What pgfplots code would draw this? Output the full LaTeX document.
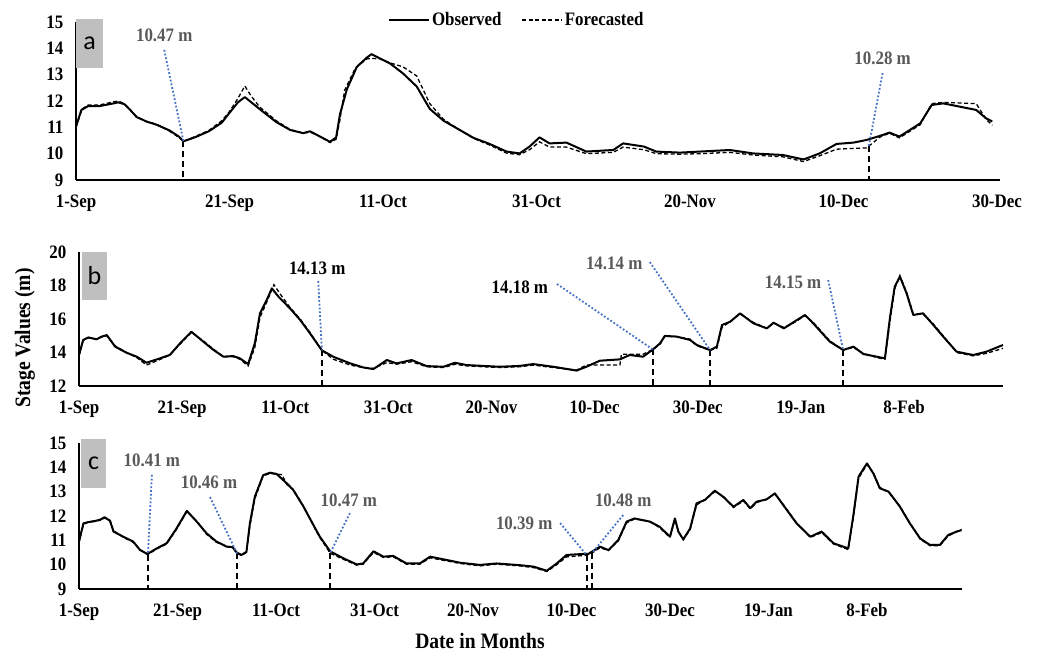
\documentclass[border=0pt]{standalone}
\usepackage{fontspec}
\setmainfont{Liberation Serif}[FakeStretch=0.89]
\newfontfamily\letterfont{Carlito}
\usepackage{pgfplots}
\pgfplotsset{compat=1.18}
\definecolor{dotblue}{RGB}{68,114,196}
\definecolor{annogray}{RGB}{89,89,89}
\definecolor{boxgray}{RGB}{191,191,191}

\pgfplotsset{
  panel/.style={scale only axis, anchor=south west,
    axis x line=bottom, axis y line=left,
    axis line style={-, line width=1.3pt},
    tick style={draw=none},
    ticklabel style={font=\fontsize{19}{19}\selectfont\bfseries},
    /pgf/number format/assume math mode=true,
    yticklabel style={xshift=-7pt},
    xticklabel style={yshift=-9pt},
    xmin=0, clip=false},
  obs/.style={black, line width=2pt, line join=round},
  fc/.style={black, line width=1.3pt, dash pattern=on 4pt off 2.5pt},
}
\tikzset{
  vdash/.style={black, line width=2pt, dash pattern=on 6pt off 4pt},
  bdot/.style={dotblue, line width=1.8pt, dash pattern=on 1.8pt off 2pt},
  anno/.style={font=\fontsize{19}{19}\selectfont\bfseries, text=annogray, inner sep=0pt},
  annok/.style={anno, text=black},
  letter/.style={fill=boxgray, inner sep=0pt, font=\letterfont\fontsize{26}{26}\selectfont},
}

\begin{document}
\begin{tikzpicture}
\path[use as bounding box] (0,0) rectangle (1045pt,-654pt);

% ---- panel a
\begin{axis}[panel, at={(76pt,-180pt)}, width=924pt, height=158pt,
  xmax=120.4, ymin=9, ymax=15, ytick={9,...,15},
  xtick={0,20,...,120},
  xticklabels={1-Sep,21-Sep,11-Oct,31-Oct,20-Nov,10-Dec,30-Dec},
  legend style={at={(0.477,1.013)}, anchor=center, legend columns=2,
    draw=none, fill=none, inner sep=0pt,
    font=\fontsize{19}{19}\selectfont\bfseries,
    /tikz/every even column/.append style={column sep=18pt}},
  legend image code/.code={\draw[#1] (0pt,0pt) -- (40pt,0pt);}]
\addplot[obs] coordinates {
(0,11.03) (0.7,11.66) (1.6,11.81) (3.1,11.81) (4.9,11.91) (5.5,11.95) (6.3,11.88)
(7.0,11.68) (7.9,11.39) (9.2,11.22) (10.5,11.10) (12.2,10.88) (13.4,10.65) (14.0,10.47)
(15.5,10.62) (17.3,10.85) (19.0,11.18) (20.0,11.55) (21.1,11.95) (22.0,12.15) (23.9,11.70)
(26.1,11.20) (27.9,10.90) (29.6,10.78) (30.5,10.85) (31.8,10.65) (33.1,10.45) (33.9,10.62)
(34.4,11.50) (35.3,12.45) (36.6,13.30) (37.9,13.65) (38.5,13.78) (39.6,13.62) (40.9,13.43)
(42.6,13.05) (44.4,12.55) (46.1,11.70) (47.9,11.25) (50.0,10.90) (51.8,10.60) (53.9,10.37)
(56.1,10.08) (57.8,10.01) (59.1,10.27) (60.4,10.62) (61.7,10.39) (63.9,10.42) (66.5,10.08)
(70.0,10.14) (71.3,10.39) (74.0,10.27) (75.6,10.08) (78.7,10.04) (81.3,10.08) (85.2,10.14)
(88.2,10.01) (92.1,9.95) (94.8,9.78) (96.9,10.01) (99.1,10.37) (101.3,10.42) (103.0,10.52)
(104.7,10.67) (106.0,10.80) (107.3,10.65) (110.0,11.15) (111.5,11.85) (113.0,11.91)
(115.6,11.76) (117.3,11.66) (118.6,11.34) (119.4,11.22)
};
\addplot[fc] coordinates {
(0,11.00) (0.8,11.70) (1.6,11.85) (3.1,11.85) (4.9,11.97) (5.5,12.00) (6.3,11.90)
(7.0,11.70) (7.9,11.40) (9.2,11.22) (10.5,11.12) (12.2,10.85) (13.4,10.62) (14.0,10.47)
(15.5,10.65) (17.3,10.88) (19.0,11.25) (20.0,11.60) (21.1,12.10) (22.0,12.57) (22.8,12.20)
(23.9,11.78) (26.1,11.25) (27.9,10.92) (29.6,10.78) (30.5,10.82) (31.8,10.65) (33.1,10.42)
(33.9,10.55) (34.4,11.30) (35.0,12.40) (36.4,13.25) (37.9,13.60) (38.5,13.62) (39.6,13.60)
(40.9,13.45) (42.6,13.30) (44.4,12.95) (46.1,11.90) (47.9,11.30) (50.0,10.90) (51.8,10.58)
(53.9,10.33) (56.1,10.02) (57.8,9.96) (59.1,10.15) (60.4,10.45) (61.7,10.25) (63.9,10.25)
(66.5,10.00) (70.0,10.05) (71.3,10.25) (74.0,10.15) (75.6,10.00) (78.7,9.98) (81.3,10.00)
(85.2,10.05) (88.2,9.95) (92.1,9.88) (94.8,9.70) (96.9,9.92) (99.1,10.17) (101.3,10.20)
(103.0,10.22) (103.3,10.28) (104.7,10.62) (106.0,10.78) (107.3,10.60) (110.0,11.10)
(111.5,11.90) (113.0,11.95) (115.6,11.92) (117.3,11.90) (118.6,11.30) (119.4,11.08)
};
\legend{Observed, Forecasted}
\draw[vdash] (14,10.47) -- (14,9);
\draw[bdot] (11.5,13.94) -- (14,10.47);
\node[anno] at (11.5,14.51) {10.47 m};
\draw[vdash] (103.3,10.28) -- (103.3,9);
\draw[bdot] (105.1,13.06) -- (103.3,10.28);
\node[anno] at (105.1,13.63) {10.28 m};
\end{axis}

% ---- panel b
\begin{axis}[panel, at={(79pt,-386pt)}, width=924pt, height=134pt,
  xmax=179.2, ymin=12, ymax=20, ytick={12,14,...,20},
  xtick={0,20,...,160},
  xticklabels={1-Sep,21-Sep,11-Oct,31-Oct,20-Nov,10-Dec,30-Dec,19-Jan,8-Feb}]
\addplot[obs] coordinates {
(0,13.85) (0.8,14.75) (1.8,14.90) (3.4,14.79) (4.4,14.95) (5.4,15.04) (7.0,14.35)
(9.2,13.99) (11.2,13.75) (13.1,13.39) (15.1,13.59) (17.6,13.85) (19.6,14.55) (21.8,15.24)
(24.1,14.65) (26.1,14.15) (28.0,13.75) (29.9,13.79) (31.2,13.65) (32.8,13.31) (34.1,14.55)
(35.1,16.34) (36.4,17.13) (37.4,17.83) (38.7,17.33) (40.9,16.64) (42.9,15.94) (44.8,15.14)
(47.1,14.13) (49.3,13.75) (52.6,13.35) (55.1,13.11) (57.1,13.01) (59.7,13.55) (61.6,13.35)
(64.5,13.55) (67.4,13.19) (70.7,13.15) (72.9,13.39) (75.2,13.25) (81.6,13.15) (85.5,13.20)
(88.1,13.31) (92.0,13.15) (96.5,12.92) (98.4,13.15) (101.0,13.51) (104.9,13.59) (106.8,13.85)
(109.4,13.75) (111.3,14.18) (112.7,14.55) (113.6,14.99) (115.9,14.95) (118.5,14.75)
(119.8,14.45) (122.4,14.14) (123.7,14.35) (124.7,15.64) (126.3,15.84) (128.2,16.34)
(130.8,15.74) (133.4,15.44) (134.7,15.78) (136.7,15.44) (138.0,15.70) (140.8,16.24)
(142.4,15.74) (145.6,14.65) (148.2,14.15) (150.2,14.35) (152.1,13.91) (154.7,13.75)
(156.3,13.65) (157.3,16.14) (158.2,17.93) (159.2,18.53) (160.5,17.53) (161.8,16.24)
(163.7,16.34) (165.7,15.64) (167.6,14.95) (170.2,14.05) (173.4,13.85) (176.0,14.05) (179.2,14.45)
};
\addplot[fc] coordinates {
(0,13.80) (0.8,14.70) (1.8,14.88) (3.4,14.80) (4.4,14.92) (5.4,15.00) (7.0,14.40)
(9.2,14.00) (11.2,13.70) (13.1,13.25) (15.1,13.50) (17.6,13.85) (19.6,14.50) (21.8,15.20)
(24.1,14.70) (26.1,14.20) (28.0,13.75) (29.9,13.75) (31.2,13.60) (32.8,13.20) (34.1,14.30)
(35.1,16.10) (36.4,17.00) (37.8,18.05) (39.0,17.50) (40.9,16.70) (42.9,16.00) (44.8,15.20)
(47.1,14.13) (49.3,13.60) (52.6,13.25) (55.1,13.10) (57.1,13.05) (59.7,13.40) (61.6,13.30)
(64.5,13.45) (67.4,13.15) (70.7,13.10) (72.9,13.30) (75.2,13.20) (81.6,13.10) (85.5,13.15)
(88.1,13.25) (92.0,13.10) (96.5,12.95) (98.4,13.25) (101.0,13.25) (104.9,13.25) (105.2,13.90)
(109.4,13.90) (111.3,14.18) (112.7,14.50) (113.6,14.95) (115.9,14.95) (118.5,14.80)
(119.8,14.40) (122.4,14.14) (123.7,14.25) (124.7,15.50) (126.3,15.85) (128.2,16.30)
(130.8,15.80) (133.4,15.45) (134.7,15.75) (136.7,15.50) (138.0,15.65) (140.8,16.20)
(142.4,15.80) (145.6,14.70) (148.2,14.15) (150.2,14.30) (152.1,13.95) (154.7,13.70)
(156.3,13.60) (157.3,15.90) (158.2,17.80) (159.2,18.60) (160.5,17.60) (161.8,16.30)
(163.7,16.30) (165.7,15.70) (167.6,15.00) (170.2,14.00) (173.4,13.80) (176.0,13.95) (179.2,14.25)
};
\draw[vdash] (47.1,14.13) -- (47.1,12);
\draw[bdot] (46.4,18.27) -- (47.1,14.13);
\node[annok] at (46.2,19.04) {14.13 m};
\draw[vdash] (111.3,14.18) -- (111.3,12);
\draw[bdot] (92.7,18.09) -- (111.3,14.18);
\node[annok] at (85.5,17.91) {14.18 m};
\draw[vdash] (122.4,14.14) -- (122.4,12);
\draw[bdot] (110.7,19.40) -- (122.4,14.14);
\node[anno] at (103.8,19.34) {14.14 m};
\draw[vdash] (148.2,14.15) -- (148.2,12);
\draw[bdot] (145.3,18.33) -- (148.2,14.15);
\node[anno] at (138.5,18.21) {14.15 m};
\end{axis}

% ---- panel c
\begin{axis}[panel, at={(79pt,-589pt)}, width=883pt, height=146pt,
  xmax=179.3, ymin=9, ymax=15, ytick={9,...,15},
  xtick={0,20,...,160},
  xticklabels={1-Sep,21-Sep,11-Oct,31-Oct,20-Nov,10-Dec,30-Dec,19-Jan,8-Feb}]
\addplot[obs] coordinates {
(0,10.95) (0.9,11.70) (1.9,11.75) (3.0,11.78) (4.3,11.85) (5.2,11.95) (6.3,11.80)
(7.0,11.36) (9.0,11.15) (11.0,10.95) (12.4,10.60) (13.9,10.44) (15.8,10.67) (17.8,10.88)
(19.8,11.49) (21.9,12.21) (23.9,11.77) (25.9,11.29) (27.9,10.95) (30.0,10.74) (31.2,10.72)
(32.0,10.50) (33.0,10.40) (34.0,10.53) (34.7,11.70) (35.7,12.79) (37.4,13.68) (38.8,13.78)
(40.1,13.73) (42.2,13.34) (43.5,13.07) (45.6,12.38) (47.6,11.63) (48.9,11.15) (51.0,10.55)
(53.7,10.26) (56.4,10.01) (57.7,10.05) (59.8,10.55) (61.8,10.33) (63.8,10.36) (66.5,10.05)
(69.2,10.05) (71.3,10.33) (74.0,10.22) (77.4,10.08) (81.4,9.99) (84.8,10.05) (89.5,9.98)
(92.3,9.92) (95.0,9.75) (97.0,10.05) (99.0,10.40) (102.4,10.44) (103.4,10.44) (105.8,10.74)
(107.5,10.60) (109.5,11.01) (111.2,11.77) (112.8,11.90) (115.9,11.77) (117.9,11.56)
(120.0,11.15) (121.0,11.90) (121.7,11.36) (122.7,11.04) (124.1,11.49) (125.4,12.52)
(127.1,12.66) (129.1,13.04) (130.8,12.79) (132.9,12.38) (134.9,12.66) (136.3,12.32)
(137.6,12.59) (139.6,12.68) (141.3,12.93) (143.0,12.45) (145.7,11.70) (148.5,11.15)
(150.8,11.36) (153.2,10.88) (156.2,10.67) (157.2,11.97) (158.3,13.62) (160.0,14.16)
(161.3,13.75) (162.6,13.14) (164.4,13.00) (166.7,12.38) (168.7,11.70) (170.8,11.08)
(172.8,10.81) (174.8,10.81) (176.5,11.22) (178.2,11.36) (179.2,11.42)
};
\addplot[fc] coordinates {
(0,10.92) (0.9,11.65) (1.9,11.75) (3.0,11.80) (4.3,11.82) (5.2,11.92) (6.3,11.82)
(7.0,11.40) (9.0,11.12) (11.0,10.92) (12.4,10.62) (13.9,10.41) (15.8,10.65) (17.8,10.85)
(19.8,11.45) (21.9,12.18) (23.9,11.80) (25.9,11.25) (27.9,10.92) (30.0,10.76) (31.2,10.70)
(32.1,10.46) (33.0,10.38) (34.0,10.50) (34.7,11.60) (35.7,12.70) (37.4,13.65) (38.8,13.75)
(40.1,13.72) (41.2,13.70) (42.2,13.30) (43.5,13.10) (45.6,12.40) (47.6,11.60) (48.9,11.12)
(51.0,10.47) (53.7,10.22) (56.4,9.98) (57.7,10.02) (59.8,10.50) (61.8,10.30) (63.8,10.32)
(66.5,10.02) (69.2,10.02) (71.3,10.28) (74.0,10.18) (77.4,10.05) (81.4,9.95) (84.8,10.02)
(89.5,9.95) (92.3,9.88) (95.0,9.72) (97.0,10.00) (99.0,10.32) (103.1,10.39) (104.2,10.48)
(105.8,10.70) (107.5,10.58) (109.5,10.98) (111.2,11.72) (112.8,11.88) (115.9,11.78)
(117.9,11.52) (120.0,11.12) (121.0,11.85) (121.7,11.38) (122.7,11.02) (124.1,11.45)
(125.4,12.45) (127.1,12.68) (129.1,13.00) (130.8,12.82) (132.9,12.35) (134.9,12.62)
(136.3,12.30) (137.6,12.55) (139.6,12.70) (141.3,12.90) (143.0,12.48) (145.7,11.72)
(148.5,11.12) (150.8,11.32) (153.2,10.85) (156.2,10.62) (157.2,11.90) (158.3,13.55)
(160.0,14.12) (161.3,13.78) (162.6,13.18) (164.4,12.98) (166.7,12.40) (168.7,11.72)
(170.8,11.05) (172.8,10.78) (174.8,10.78) (176.5,11.18) (178.2,11.35) (179.2,11.45)
};
\draw[vdash] (14.0,10.41) -- (14.0,9);
\draw[bdot] (14.8,13.69) -- (14.0,10.41);
\node[anno] at (14.8,14.30) {10.41 m};
\draw[vdash] (32.1,10.46) -- (32.1,9);
\draw[bdot] (26.6,12.78) -- (32.1,10.46);
\node[anno] at (26.4,13.40) {10.46 m};
\draw[vdash] (51.0,10.47) -- (51.0,9);
\draw[bdot] (55.0,12.12) -- (51.0,10.47);
\node[anno] at (54.8,12.66) {10.47 m};
\draw[vdash] (103.1,10.39) -- (103.1,9);
\draw[bdot] (97.7,11.71) -- (103.1,10.39);
\node[anno] at (90.4,11.71) {10.39 m};
\draw[vdash] (104.2,10.48) -- (104.2,9);
\draw[bdot] (110.5,12.04) -- (104.2,10.48);
\node[anno] at (110.5,12.66) {10.48 m};
\end{axis}

% panel letters and shared axis titles
\node[letter, minimum width=27pt, minimum height=49pt] at (89.5pt,-43.5pt) {a};
\node[letter, minimum width=25pt, minimum height=48pt] at (94.5pt,-276pt) {b};
\node[letter, minimum width=25pt, minimum height=49pt] at (93.5pt,-463.5pt) {c};
\node[rotate=90, font=\fontsize{22}{22}\selectfont\bfseries] at (25pt,-338pt) {Stage Values (m)};
\node[font=\fontsize{22}{22}\selectfont\bfseries] at (480pt,-641pt) {Date in Months};
\end{tikzpicture}
\end{document}
